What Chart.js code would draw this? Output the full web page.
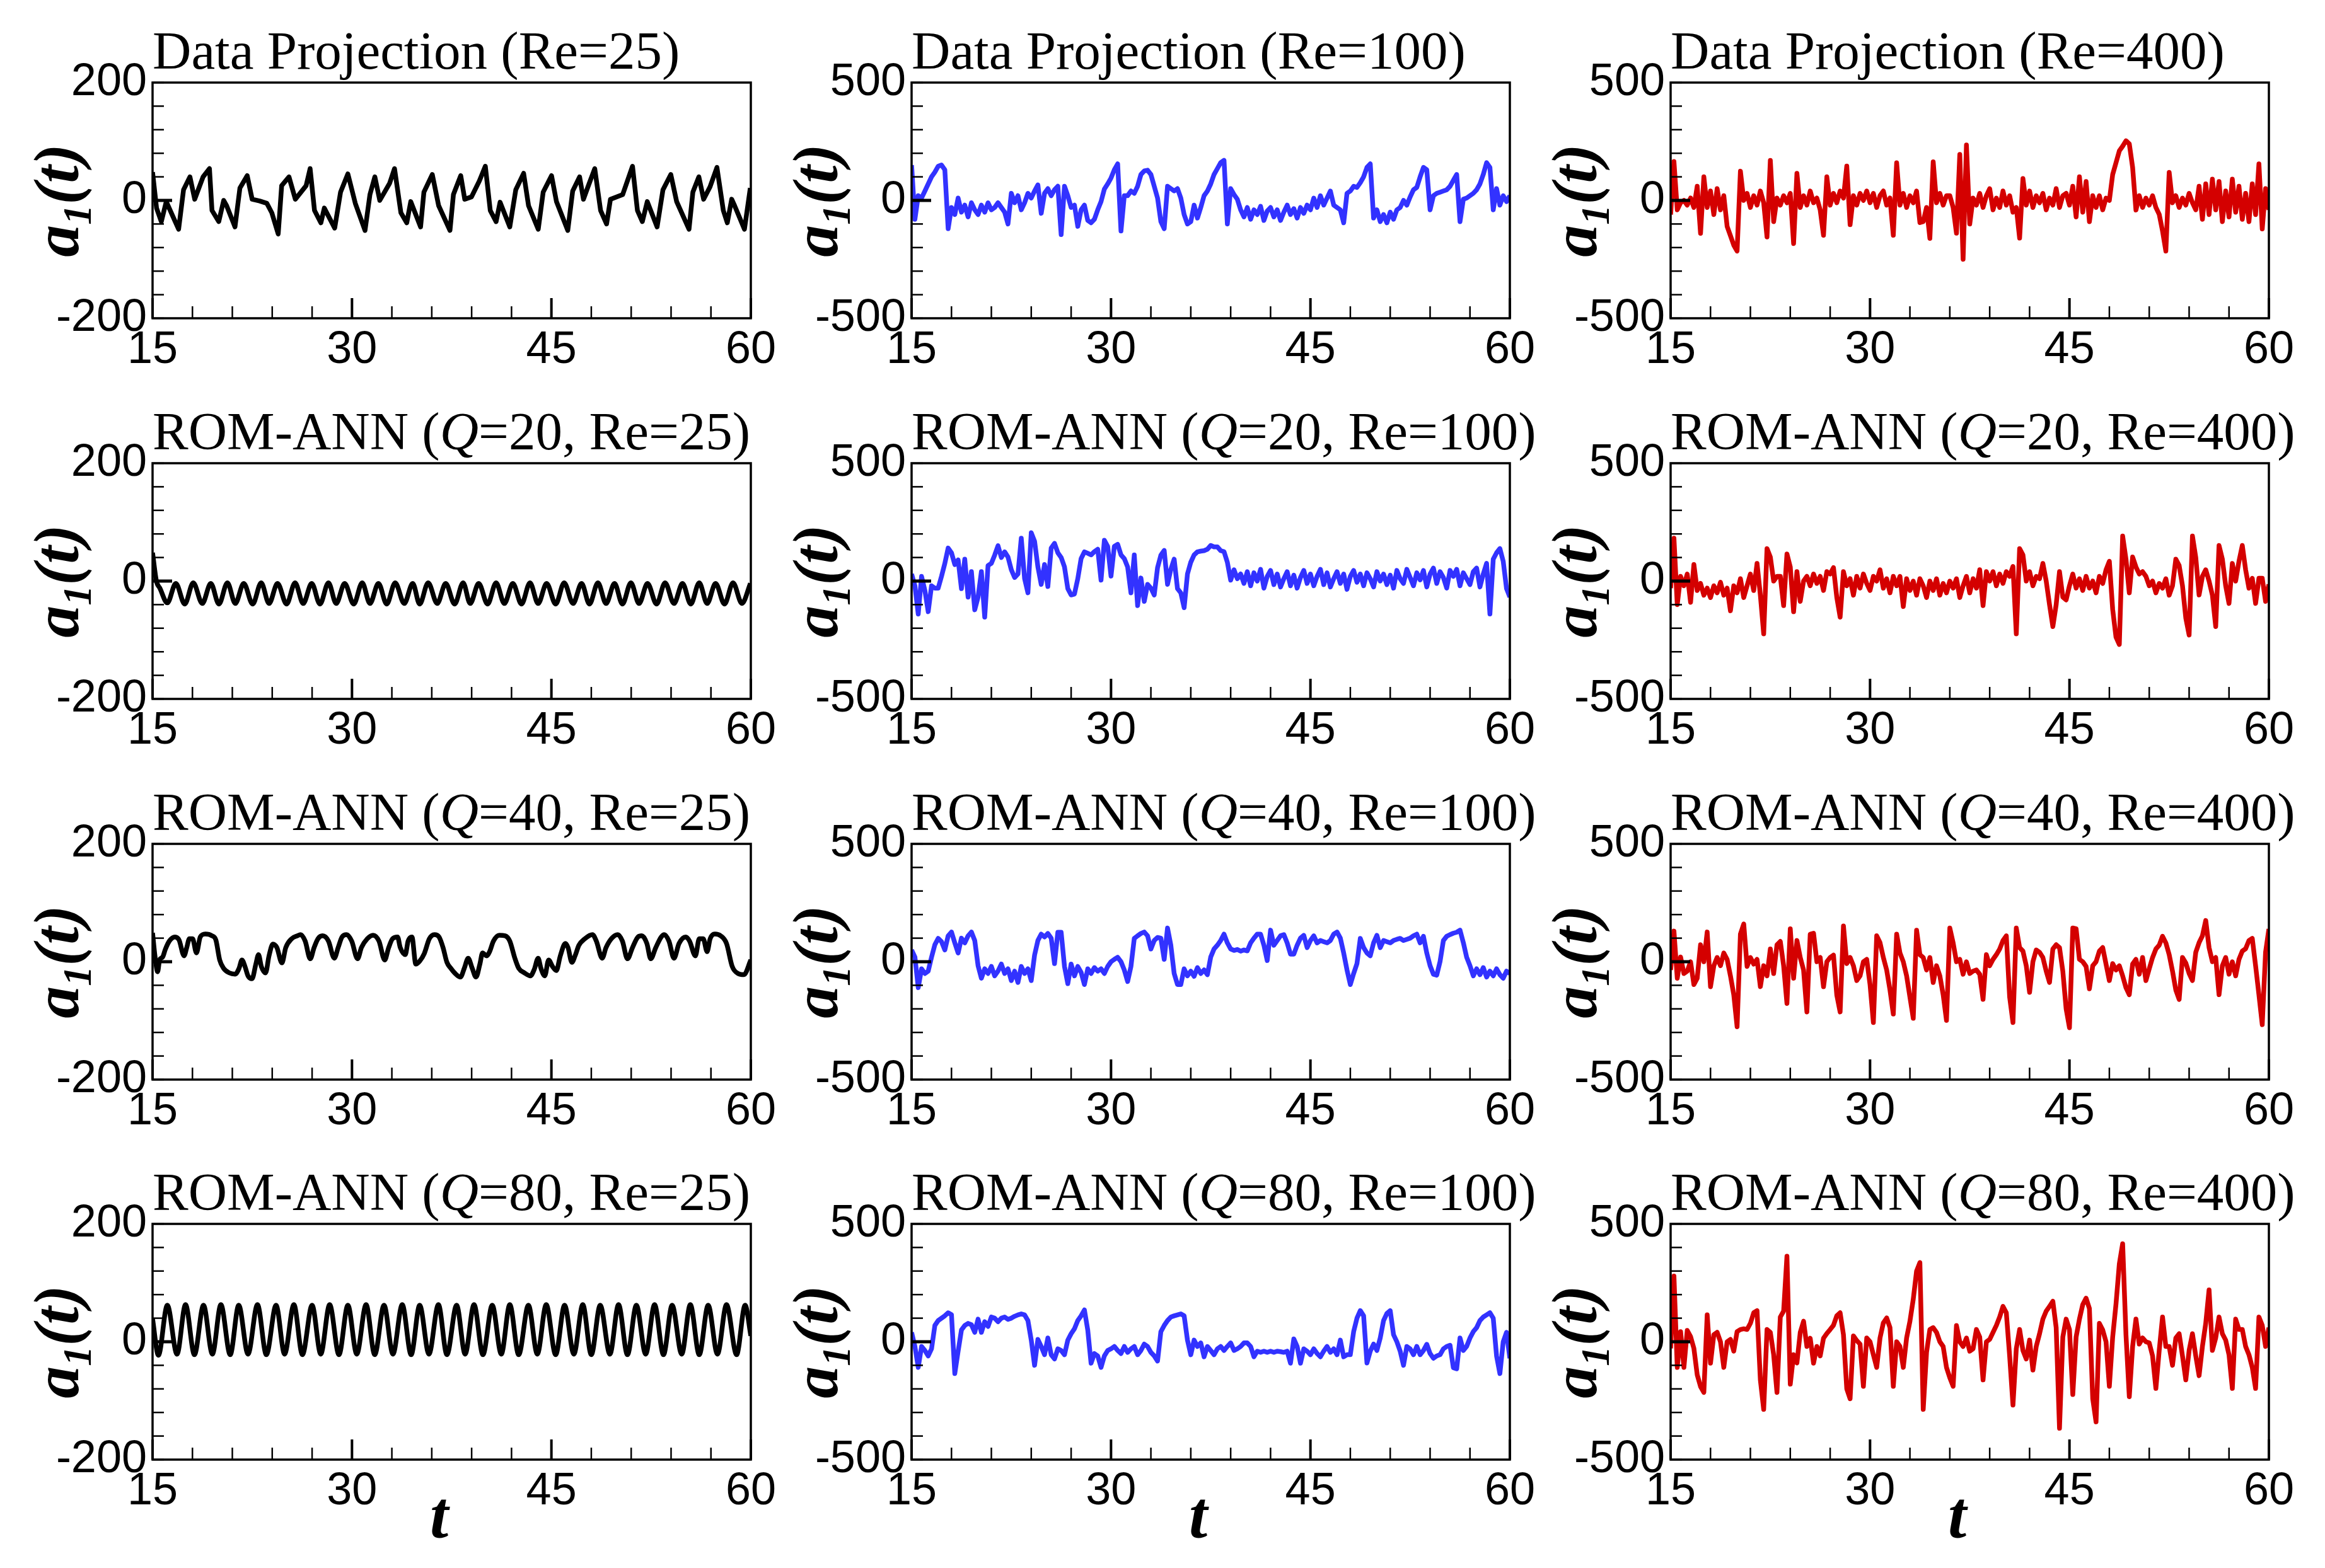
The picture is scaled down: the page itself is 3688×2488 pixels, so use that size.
<!DOCTYPE html>
<html>
<head>
<meta charset="utf-8">
<script src="https://cdn.jsdelivr.net/npm/chart.js@4.4.1/dist/chart.umd.min.js"></script>
<style>
  html, body { margin: 0; padding: 0; background: #fff; }
  #page { position: relative; width: 3688px; height: 2488px; background: #fff; overflow: hidden; }
  #page canvas { position: absolute; }
</style>
</head>
<body>
<div id="page"></div>
<script>
// ---- data ----
// time axis
const xTicks = [15, 30, 45, 60];
const T_START = 15, T_STEP = 0.25;   // sampling of the noisy traces

// Data projection, Re=25 (explicit times)
const t_dp25 = [15.00,15.30,15.66,16.03,16.96,17.33,17.81,18.17,18.80,19.28,19.47,19.98,20.35,20.57,21.20,21.57,22.12,22.49,23.05,23.60,
  23.97,24.45,24.71,25.26,25.74,26.55,26.85,27.18,27.66,27.92,28.70,29.14,29.69,30.25,30.98,31.35,31.72,32.09,32.83,33.20,
  33.68,34.12,34.42,35.16,35.41,36.04,36.52,37.37,37.63,38.18,38.48,38.99,39.58,40.03,40.40,40.84,41.14,41.87,42.32,42.91,
  43.28,44.01,44.38,45.01,45.38,46.23,46.60,47.12,47.41,47.78,48.26,48.70,49.15,49.44,50.36,51.10,51.47,51.84,52.21,52.95,
  53.39,53.98,54.42,55.35,55.64,56.09,56.45,56.93,57.45,57.93,58.23,58.56,58.78,59.52,59.96];
const a_dp25 = [48,-13,-36,-2,-49,18,40,2,40,54,-17,-36,0,-9,-45,21,42,2,-1,-5,
  -21,-57,25,40,2,25,54,-17,-38,-13,-47,14,45,-5,-51,10,40,0,29,54,
  -21,-38,-2,-45,14,44,-9,-51,10,42,2,6,33,58,-17,-36,-3,-45,18,46,
  -9,-49,14,42,-2,-51,16,40,2,25,54,-17,-40,2,10,58,-17,-36,-2,-45,
  18,44,-2,-49,14,40,2,23,56,-17,-38,2,-9,-49,21];

// Data projection, Re=100 (on the T_STEP grid)
const a_dp100 = [
  150,-80,20,10, 40,70,100,120, 145,150,130,-120, -30,-60,10,-50, -20,-70,-10,-40,
  -60,-20,-50,-10, -40,-30,-10,-30, -50,-100,30,-10, 20,-40,-10,30, 10,40,66,-55,
  30,50,20,45, 60,-145,60,20, -30,-20,-110,-40, -20,-85,-95,-80, -40,-5,48,70,
  95,130,155,-130, 20,20,40,30, 60,110,125,128, 110,60,10,-90, -120,60,50,40,
  50,10,-60,-100, -90,-20,-75,-30, 20,40,70,110, 135,160,170,-100, 50,25,5,-40,
  -70,-30,-80,-40, -60,-25,-85,-45, -30,-70,-40,-85, -50,-20,-60,-35, -75,-30,-55,-20,
  -40,10,-30,20, -20,10,40,-20, -30,-40,-95,30, 40,60,55,75, 100,140,155,-75,
  -40,-90,-60,-95, -50,-80,-40,-30, 0,-20,15,45, 55,100,140,130, -40,20,30,35,
  40,45,60,85, 110,-90,5,10, 20,30,45,70, 110,160,140,-40, 50,-20,20,-5, 20];

// Data projection, Re=400
const a_dp400 = [
  -60,165,-40,-10, 0,-20,10,-30, 60,-140,100,-30, 40,-60,50,-40, 20,-110,-150,-190,
  -215,124,0,30, -30,20,-20,40, -10,-155,170,-90, 10,-20,20,-10, 30,-183,115,-30,
  20,-20,40,-10, 10,-40,-148,100, -20,30,-10,40, 10,146,-103,20, -20,30,0,40,
  -10,30,-30,20, 40,-20,10,-148, 160,-20,30,-30, 20,-10,40,-94, -90,-30,-161,164,
  -10,30,-20,20, 20,-30,-139,195, -250,235,-100,10, -20,30,-30,20, 50,-40,10,-30,
  40,-20,20,-50, -30,-160,93,-20, 40,-30,20,-10, 30,-40,10,-20, 50,-30,20,30,
  -20,60,-70,100, -50,80,-90,20, -30,20,-40,10, 0,110,160,210, 230,253,240,140,
  -41,20,-30,10, -20,20,-30,-59, -130,-215,119,-10, 20,-30,10,-20, 30,-10,-40,60,
  -80,70,-60,90, -40,80,-90,40, -70,90,-50,60, -80,30,-90,70, -60,155,-121,50, -40];

// ROM-ANN Q=20, Re=25 (explicit times)
const t_q20_25 = [15.00,15.29,15.55,16.11,16.75,17.42,18.06,18.74,19.38,19.99,20.63,21.22,21.86,22.53,23.17,23.76,24.40,25.08,25.72,26.33,
  26.97,27.59,28.23,28.81,29.45,30.13,30.77,31.35,31.99,32.61,33.25,33.93,34.57,35.09,35.73,36.41,37.05,37.72,38.36,38.89,
  39.53,40.20,40.84,41.46,42.10,42.75,43.39,44.00,44.64,45.32,45.96,46.63,47.27,47.86,48.50,49.11,49.75,50.34,50.98,51.59,
  52.23,52.91,53.55,54.22,54.86,55.48,56.12,56.71,57.35,58.02,58.66,59.33,59.97];
const a_q20_25 = [48,0,-12,-37,-4,-39,-3,-38,-4,-39,-3,-38,-4,-39,-3,-38,-4,-39,-3,-38,
  -4,-39,-3,-38,-4,-39,-3,-38,-4,-39,-3,-38,-4,-39,-3,-38,-4,-39,-3,-38,
  -4,-39,-3,-38,-4,-39,-3,-38,-4,-39,-3,-38,-4,-39,-3,-38,-4,-39,-3,-38,
  -4,-39,-3,-38,-4,-39,-3,-38,-4,-39,-3,-38,-4];

// ROM-ANN Q=20, Re=100
const a_q20_100 = [
  30,-20,-140,20, -40,-130,-20,-30, -30,20,75,140, 120,70,90,-32, 93,-68,40,-122,
  -68,40,-153,66, 75,110,150,100, 124,102,48,15, 30,182,10,-50, 205,169,60,-14,
  70,-23,140,160, 120,100,60,-32, -59,-55,10,95, 124,118,111,125, 135,4,173,147,
  21,147,156,111, 95,60,-50,111, -104,13,-86,-14, -30,-59,57,110, 130,-14,50,93,
  -32,-50,-113,30, 80,111,124,127, 129,135,151,145, 145,129,125,80, 4,48,10,30,
  -10,40,-20,35, 0,50,-30,20, 45,-15,30,-25, 10,40,-20,25, -30,15,45,-10,
  30,-20,20,50, -15,35,-25,10, 40,-10,30,-35, 20,45,-5,30, -20,35,10,-25,
  40,0,30,-15, 25,-30,45,10, -10,50,15,-20, 35,5,45,-25, 30,55,-10,40,
  15,-30,45,20, 50,-20,35,10, -15,40,55,-25, 30,75,-140,93, 120,138,84,-32, -68];

// ROM-ANN Q=20, Re=400
const a_q20_400 = [
  -30,182,-100,20, -20,30,-90,70, -40,-10,-60,-30, -70,-20,-50,-5, -60,-30,-126,-20,
  -50,10,-70,-20, 30,-40,75,-60, -224,138,102,0, 20,20,-104,115, 60,-130,40,-86,
  0,20,-20,30, -10,20,-40,40, 30,57,-70,-153, 40,-20,10,-60, 20,-30,30,-10,
  -40,20,0,48, -30,10,-50,20, -20,20,-108,10, -40,0,-60,10, -20,-70,0,-40,
  10,-60,-10,-50, 0,-30,10,-70, -20,20,-50,10, -30,48,-104,40, 0,40,-20,30,
  -10,40,20,62, -224,138,111,0, 40,-20,20,10, 75,0,-100,-193, -100,40,-68,-80,
  -20,30,-30,10, -40,20,-30,0, -50,20,-10,48, 84,-120,-238,-269, 191,93,-50,102,
  60,30,40,20, -20,0,-50,-10, -30,10,-60,-20, 93,66,-20,-157, -229,191,100,-59,
  20,48,0,-60, -193,151,93,-20, -95,75,0,84, 151,48,-30,12, -95,12,12,-86, -14];

// ROM-ANN Q=40, Re=25 (explicit times)
const t_q40_25 = [15.00,15.18,15.38,15.53,15.76,15.96,16.26,16.69,16.99,17.37,
  17.57,17.77,18.01,18.30,18.59,18.97,19.47,19.76,20.05,20.34,
  20.78,21.22,21.51,21.72,21.95,22.18,22.48,22.77,22.97,23.18,
  23.50,23.76,24.05,24.35,24.73,25.02,25.46,25.89,26.13,26.48,
  26.86,27.15,27.44,27.79,28.23,28.67,28.96,29.25,29.60,29.98,
  30.42,30.71,31.15,31.59,32.03,32.46,32.76,33.05,33.43,33.63,
  34.01,34.22,34.51,34.80,35.09,35.44,35.82,36.20,36.55,36.85,
  37.14,37.43,37.72,38.16,38.45,38.74,39.04,39.33,39.62,39.82,
  40.12,40.35,40.64,41.08,41.52,41.87,42.25,42.54,42.98,43.42,
  43.71,44.00,44.21,44.50,44.79,45.08,45.37,45.67,46.05,46.25,
  46.54,46.78,47.07,47.51,48.09,48.38,48.82,49.11,49.55,49.99,
  50.34,50.72,51.10,51.51,51.80,52.18,52.47,52.85,53.26,53.49,
  53.84,54.22,54.60,55.10,55.39,55.83,56.12,56.42,56.71,56.94,
  57.29,57.73,58.17,58.60,59.04,59.48,60.00];
const a_q40_25 = [49,10,-17,3,8,21,35,42,37,10,
  24,39,39,15,42,47,44,37,3,-11,
  -19,-21,-11,3,-8,-24,-29,-4,12,-8,
  -19,10,30,24,-2,24,39,44,46,35,
  5,24,39,44,35,6,24,42,46,35,
  5,24,39,45,35,3,24,39,42,24,
  12,35,42,-4,1,14,39,46,42,24,
  -1,-11,-19,-26,-11,6,-11,-26,-4,15,
  10,17,35,45,44,35,6,-11,-19,-24,
  -13,6,-11,-24,3,-8,-15,10,31,24,
  -1,10,28,39,46,35,6,24,40,46,
  35,5,24,42,44,31,5,24,42,46,
  35,6,31,42,35,10,39,39,17,39,
  47,44,31,-8,-20,-22,3];

// ROM-ANN Q=40, Re=100
const a_q40_100 = [
  50,20,-110,-30, -50,-40,19,72, 99,85,50,110, 126,80,37,100, 80,110,126,90,
  -17,-70,-30,-50, -20,-60,-40,-10, -50,-30,-80,-40, -88,-20,-50,-30, -80,28,90,117,
  105,120,100,-8, 125,125,-20,-93, -10,-60,-20,-45, -97,-30,-50,-25, -40,-30,-50,-20,
  0,10,19,0, -35,-84,-20,99, 110,120,126,110, 54,90,103,100, 10,143,70,-50,
  -97,-97,-30,-60, -40,-62,-25,-50, -35,-55,20,54, 70,90,117,80, 54,48,52,45,
  50,46,80,100, 117,117,70,5, 134,70,90,110, 115,80,32,32, 70,100,112,60,
  90,110,80,90, 85,80,90,117, 126,100,37,-35, -97,-50,-8,99, 60,37,25,80,
  112,60,90,85, 80,90,95,99, 90,95,100,110, 117,80,108,37, -17,-53,-57,1,
  90,108,115,121, 125,134,81,19, -17,-60,-30,-55, -25,-65,-40,-60, -30,-55,-70,-40, -50];

// ROM-ANN Q=40, Re=400
const a_q40_400 = [
  -35,130,-70,20, -50,-40,0,-97, -70,72,0,126, -106,-17,18,-17, 37,10,-60,-140,
  -276,117,160,-20, 18,-10,10,-106, -17,-60,54,-50, 72,86,-17,-177, 140,-70,90,18,
  -35,-213,117,121, 0,18,-106,0, 18,28,-142,-213, 152,-8,18,-17, -80,-60,0,10,
  -97,-258,110,81, 18,-35,-120,-222, 117,37,0,-60, -150,-240,134,30, 18,-35,18,-88,
  -17,-60,-140,-249, 143,80,0,10, -53,0,-50,-40, -35,-53,-160,30, -17,10,30,54,
  90,110,-150,-258, 143,60,45,-17, -130,0,50,40, 18,-40,-88,54, 72,60,-40,-200,
  -280,143,140,10, 0,-20,-115,-17, 0,45,60,-10, -80,-8,-35,-17, -60,-110,-140,-10,
  10,-53,18,-80, -30,18,54,70, 108,80,30,-40, -120,-160,18,-5, -50,-80,40,81,
  110,175,60,0, 18,-140,-17,18, -53,0,-60,10, 45,55,90,99, -17,-140,-267,40, 139];

// ROM-ANN Q=80, Re=25 (explicit times)
const t_q80_25 = [15.00,15.44,16.11,16.84,17.48,18.15,18.83,19.50,20.14,20.84,21.48,22.18,22.89,23.56,24.29,24.93,25.63,26.27,27.00,27.65,
  28.32,29.02,29.69,30.36,31.06,31.71,32.41,33.08,33.78,34.45,35.09,35.79,36.50,37.14,37.87,38.51,39.18,39.85,40.55,41.23,
  41.87,42.54,43.27,43.94,44.61,45.32,45.99,46.69,47.36,48.00,48.67,49.40,50.05,50.72,51.39,52.09,52.76,53.43,54.08,54.80,
  55.45,56.12,56.79,57.49,58.17,58.93,59.57,60.00];
const a_q80_25 = [39,-23,62,-21,63,-22,62,-21,63,-22,62,-21,63,-22,62,-21,63,-22,62,-21,
  63,-22,62,-21,63,-22,62,-21,63,-22,62,-21,63,-22,62,-21,63,-22,62,-21,
  63,-22,62,-21,63,-22,62,-21,63,-22,62,-21,63,-22,62,-21,63,-22,62,-21,
  63,-22,62,-21,63,-22,62,10];

// ROM-ANN Q=80, Re=100
const a_q80_100 = [
  40,-20,-109,-20, -37,-60,-30,69, 90,100,110,123, 115,-135,-40,50, 69,78,72,40,
  96,40,85,65, 105,100,85,100, 105,95,100,108, 114,118,114,90, 7,-100,10,-20,
  -55,16,-55,-73, -30,-37,-55,7, 34,55,90,110, 135,50,-91,-50, -60,-109,-60,-37,
  -30,-20,-37,-50, -20,-45,-30,-20, -55,-37,-10,-20, -45,-60,-82,43, 69,90,105,110,
  114,118,110,7, -55,7,-20,-5, -64,-20,-37,-55, -30,-20,-37,-20, -5,-37,-30,-20,
  -5,-5,-20,-64, -40,-45,-40,-45, -40,-45,-40,-42, -45,-40,-91,12, -20,-91,-30,-40,
  -55,-30,-50,-64, -40,-20,-45,-30, -55,7,-64,-55, -55,43,100,132, 110,-90,-40,-10,
  -37,16,90,120, 132,30,0,-40, -100,-20,-30,-55, -20,-55,-37,-11, -50,-70,-60,-55,
  -30,-20,-15,-110, -115,16,-37,-20, 16,43,60,90, 105,114,123,100, -60,-135,0,40, -70];

// ROM-ANN Q=80, Re=400
const a_q80_400 = [
  -28,279,-109,43, -109,48,22,-28, -140,-190,-215,114, -91,30,40,0, -109,0,10,-40,
  43,52,55,52, 78,123,132,-162, -287,52,40,-55, -215,105,130,363, -180,-55,-90,40,
  87,-20,15,-91, -20,-60,15,35, 52,70,110,123, 30,-200,-242,25, 5,-10,-189,16,
  0,-55,-109,16, 80,101,60,-189, 0,-20,-109,16, 87,180,300,336, -287,-45,52,60,
  40,0,-20,-109, -153,-189,69,0, -20,16,-40,-30, 52,20,-162,0, 10,40,69,105,
  150,123,-60,-269, -30,52,-37,-73, 7,-120,-20,34, 96,130,150,172, 60,-367,20,96,
  52,-224,20,96, 158,185,141,-242, -340,78,50,0, -189,20,160,330, 416,30,-233,-20,
  96,-10,16,0, -5,-60,-198,-37, 105,-20,-20,-100, 16,34,-60,-162, -37,34,-60,-144,
  -20,78,220,-37, 16,105,34,7, -55,-198,96,52, 52,-20,-55,-109, -198,105,70,-20, 60];

const tGrid = a_dp100.map((_, i) => T_START + i * T_STEP);

// ---- panel layout ----
const BLACK = '#000000', BLUE = '#3232ff', RED = '#d40000';
const colLeft = [242, 1446, 2650];
const rowTop = [131, 735, 1339, 1942];
const PLOT_W = 949, PLOT_H = 374;
const PAD_L = 242, PAD_T = 131, PAD_R = 60, PAD_B = 150;

const panels = [
  { title: [['Data Projection (Re=25)', false]], t: t_dp25, a: a_dp25, lim: 200, color: BLACK, smooth: false },
  { title: [['Data Projection (Re=100)', false]], t: tGrid, a: a_dp100, lim: 500, color: BLUE },
  { title: [['Data Projection (Re=400)', false]], t: tGrid, a: a_dp400, lim: 500, color: RED },
  { title: [['ROM-ANN (', false], ['Q', true], ['=20, Re=25)', false]], t: t_q20_25, a: a_q20_25, lim: 200, color: BLACK, smooth: true },
  { title: [['ROM-ANN (', false], ['Q', true], ['=20, Re=100)', false]], t: tGrid, a: a_q20_100, lim: 500, color: BLUE },
  { title: [['ROM-ANN (', false], ['Q', true], ['=20, Re=400)', false]], t: tGrid, a: a_q20_400, lim: 500, color: RED },
  { title: [['ROM-ANN (', false], ['Q', true], ['=40, Re=25)', false]], t: t_q40_25, a: a_q40_25, lim: 200, color: BLACK, smooth: true },
  { title: [['ROM-ANN (', false], ['Q', true], ['=40, Re=100)', false]], t: tGrid, a: a_q40_100, lim: 500, color: BLUE },
  { title: [['ROM-ANN (', false], ['Q', true], ['=40, Re=400)', false]], t: tGrid, a: a_q40_400, lim: 500, color: RED },
  { title: [['ROM-ANN (', false], ['Q', true], ['=80, Re=25)', false]], t: t_q80_25, a: a_q80_25, lim: 200, color: BLACK, smooth: true },
  { title: [['ROM-ANN (', false], ['Q', true], ['=80, Re=100)', false]], t: tGrid, a: a_q80_100, lim: 500, color: BLUE },
  { title: [['ROM-ANN (', false], ['Q', true], ['=80, Re=400)', false]], t: tGrid, a: a_q80_400, lim: 500, color: RED }
];

const SERIF = '"Liberation Serif", "Times New Roman", serif';
const SANS = '"Liberation Sans", Arial, sans-serif';

// frame, inward ticks, titles and axis labels
const panelDecor = {
  id: 'panelDecor',
  afterDraw(chart, args, opts) {
    const ctx = chart.ctx;
    const area = chart.chartArea;
    const xs = chart.scales.x, ys = chart.scales.y;
    ctx.save();
    ctx.strokeStyle = '#000';
    ctx.lineCap = 'butt';

    // x ticks (bottom, pointing up)
    xs.ticks.forEach(tk => {
      const px = xs.getPixelForValue(tk.value);
      const major = xTicks.includes(tk.value);
      ctx.lineWidth = major ? 4 : 2.5;
      const len = major ? 32 : 19;
      ctx.beginPath();
      ctx.moveTo(px, area.bottom);
      ctx.lineTo(px, area.bottom - len);
      ctx.stroke();
    });
    // y ticks (left, pointing right)
    ys.ticks.forEach(tk => {
      const py = ys.getPixelForValue(tk.value);
      const major = tk.value === 0;
      ctx.lineWidth = major ? 5 : 2.5;
      const len = major ? 31 : 18;
      ctx.beginPath();
      ctx.moveTo(area.left, py);
      ctx.lineTo(area.left + len, py);
      ctx.stroke();
    });

    // frame
    ctx.lineWidth = 3.5;
    ctx.strokeRect(area.left, area.top, area.right - area.left, area.bottom - area.top);

    // title
    ctx.fillStyle = '#000';
    ctx.textBaseline = 'alphabetic';
    ctx.textAlign = 'left';
    let x = area.left;
    opts.title.forEach(([txt, it]) => {
      ctx.font = (it ? 'italic ' : '') + '85px ' + SERIF;
      ctx.fillText(txt, x, area.top - 22);
      x += ctx.measureText(txt).width;
    });

    // y label a1(t)
    const cy = (area.top + area.bottom) / 2;
    const cx = area.left - 143;
    ctx.translate(cx, cy);
    ctx.rotate(-Math.PI / 2);
    const parts = [['a', 102, 0], ['1', 64, 20], ['(t)', 102, 0]];
    let total = 0;
    parts.forEach(p => { ctx.font = 'italic bold ' + p[1] + 'px ' + SERIF; total += ctx.measureText(p[0]).width; });
    let px = -total / 2;
    parts.forEach(p => {
      ctx.font = 'italic bold ' + p[1] + 'px ' + SERIF;
      ctx.fillText(p[0], px, 25 + p[2]);
      px += ctx.measureText(p[0]).width;
    });
    ctx.setTransform(1, 0, 0, 1, 0, 0);

    // x label t (bottom row)
    if (opts.showT) {
      ctx.font = 'italic bold 105px ' + SERIF;
      ctx.textAlign = 'center';
      ctx.fillText('t', (area.left + area.right) / 2 - 20, area.bottom + 123);
    }
    ctx.restore();
  }
};

const page = document.getElementById('page');

panels.forEach((p, idx) => {
  const row = Math.floor(idx / 3), col = idx % 3;
  const canvas = document.createElement('canvas');
  canvas.width = PAD_L + PLOT_W + PAD_R;
  canvas.height = PAD_T + PLOT_H + PAD_B;
  canvas.style.left = (colLeft[col] - PAD_L) + 'px';
  canvas.style.top = (rowTop[row] - PAD_T) + 'px';
  page.appendChild(canvas);

  const n = Math.min(p.t.length, p.a.length);
  const pts = [];
  for (let i = 0; i < n; i++) pts.push({ x: p.t[i], y: p.a[i] });

  new Chart(canvas.getContext('2d'), {
    type: 'line',
    data: {
      datasets: [{
        data: pts,
        borderColor: p.color,
        borderWidth: 7.5,
        borderJoinStyle: 'round',
        pointRadius: 0,
        fill: false,
        tension: p.smooth ? 0.4 : 0,
        cubicInterpolationMode: p.smooth ? 'monotone' : 'default'
      }]
    },
    options: {
      responsive: false,
      animation: false,
      devicePixelRatio: 1,
      layout: { padding: { top: PAD_T, right: PAD_R, bottom: 0, left: 0 } },
      scales: {
        x: {
          type: 'linear',
          min: 15, max: 60,
          grid: { display: false, drawTicks: false },
          border: { display: false },
          ticks: {
            stepSize: 3, autoSkip: false, maxRotation: 0, padding: 8,
            color: '#000', font: { family: SANS, size: 72 },
            callback: v => xTicks.includes(v) ? String(v) : ''
          },
          afterFit: s => { s.height = PAD_B; s.paddingLeft = 0; s.paddingRight = 0; }
        },
        y: {
          min: -p.lim, max: p.lim,
          grid: { display: false, drawTicks: false },
          border: { display: false },
          ticks: {
            stepSize: p.lim / 5, autoSkip: false, padding: 9,
            color: '#000', font: { family: SANS, size: 72 },
            callback: v => (v === 0 || Math.abs(v) === p.lim) ? String(v) : ''
          },
          afterFit: s => { s.width = PAD_L; s.paddingTop = 0; s.paddingBottom = 0; }
        }
      },
      plugins: {
        legend: { display: false },
        tooltip: { enabled: false },
        title: { display: false },
        panelDecor: { title: p.title, showT: row === 3 }
      }
    },
    plugins: [panelDecor]
  });
});
</script>
</body>
</html>
